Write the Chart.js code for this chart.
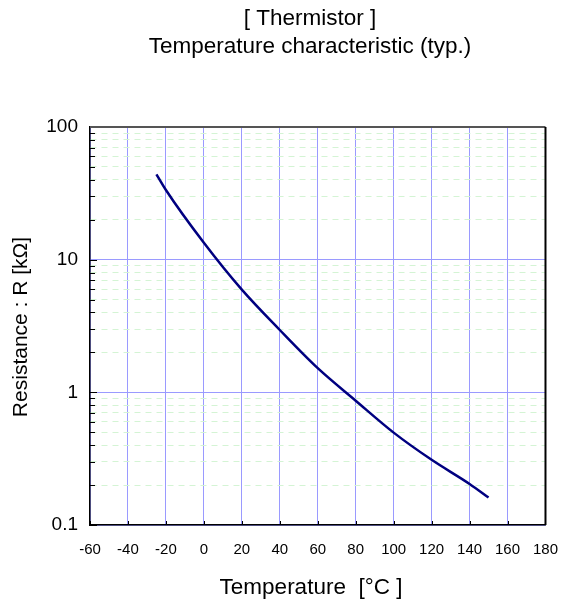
<!DOCTYPE html>
<html>
<head>
<meta charset="utf-8">
<script src="https://cdn.jsdelivr.net/npm/chart.js@4/dist/chart.umd.min.js"></script>
<style>
  html, body { margin: 0; padding: 0; background: #fff; }
  #wrap { width: 574px; height: 600px; }
</style>
</head>
<body>
<div id="wrap"><canvas id="c"></canvas></div>
<script>
// values
const tempC = [-25, -20, 0, 20, 40, 60, 80, 100, 120, 140, 150];
const resistK = [44, 33.5, 13.4, 5.94, 2.95, 1.52, 0.865, 0.497, 0.31, 0.204, 0.161];

const yMajor = [0.1, 1, 10, 100];
const yMinorSteps = [2, 3, 4, 5, 6, 7, 8, 9];
const xMin = -60, xMax = 180, xStep = 20;

const titleLines = ['[ Thermistor ]', 'Temperature characteristic (typ.)'];
const xTitle = 'Temperature  [°C ]';
const yTitle = 'Resistance : R [kΩ]';

const FONT = '"Liberation Sans", Arial, sans-serif';
const GRID_BLUE = '#9a9aff';
const GRID_GREEN = '#d4f4d4';

// tick list for the log axis: powers of ten + 2..9 in each decade
const yTickValues = [];
yMajor.forEach((m, i) => {
  yTickValues.push(m);
  if (i < yMajor.length - 1) yMinorSteps.forEach(s => yTickValues.push(+(m * s).toFixed(4)));
});

const isMajor = v => yMajor.some(m => Math.abs(m - v) < 1e-9);

const frameAndText = {
  id: 'frameAndText',
  afterDraw(chart) {
    const { ctx, chartArea: a, scales } = chart;
    ctx.save();
    // inward tick marks
    ctx.strokeStyle = '#000';
    ctx.lineWidth = 1;
    yTickValues.forEach(v => {
      const py = Math.round(scales.y.getPixelForValue(v)) + 0.5;
      const len = isMajor(v) ? 7 : 5;
      ctx.beginPath(); ctx.moveTo(a.left, py); ctx.lineTo(a.left + len, py); ctx.stroke();
    });
    for (let v = xMin; v <= xMax; v += xStep) {
      const px = Math.round(scales.x.getPixelForValue(v)) + 0.5;
      ctx.beginPath(); ctx.moveTo(px, a.bottom); ctx.lineTo(px, a.bottom - 4); ctx.stroke();
    }
    // top and right frame
    ctx.lineWidth = 2;
    ctx.strokeStyle = '#555';
    ctx.beginPath(); ctx.moveTo(a.left, a.top); ctx.lineTo(a.right, a.top); ctx.stroke();
    ctx.strokeStyle = '#000';
    ctx.beginPath(); ctx.moveTo(a.right, a.top); ctx.lineTo(a.right, a.bottom); ctx.stroke();

    // titles
    ctx.fillStyle = '#000';
    ctx.textAlign = 'center';
    ctx.textBaseline = 'middle';
    ctx.font = '22.5px ' + FONT;
    ctx.fillText(titleLines[0], 310, 19);
    ctx.fillText(titleLines[1], 310, 47);
    ctx.fillText(xTitle, 311, 588);
    ctx.font = '21px ' + FONT;
    ctx.translate(21, 327);
    ctx.rotate(-Math.PI / 2);
    ctx.fillText(yTitle, 0, 0);
    ctx.restore();
  }
};

new Chart(document.getElementById('c'), {
  type: 'line',
  data: {
    datasets: [{
      data: tempC.map((t, i) => ({ x: t, y: resistK[i] })),
      borderColor: '#000080',
      borderWidth: 2.5,
      pointRadius: 0,
      cubicInterpolationMode: 'monotone',
      fill: false
    }]
  },
  options: {
    responsive: true,
    maintainAspectRatio: false,
    animation: false,
    layout: { padding: { left: 0, right: 24, top: 127, bottom: 0 } },
    plugins: { legend: { display: false }, tooltip: { enabled: false }, title: { display: false } },
    scales: {
      x: {
        type: 'linear',
        min: xMin,
        max: xMax,
        afterFit: s => { s.height = 75; },
        ticks: {
          stepSize: xStep,
          color: '#000',
          font: { family: FONT, size: 15 },
          padding: 16,
          maxRotation: 0
        },
        grid: {
          drawTicks: false,
          color: GRID_BLUE,
          lineWidth: 1
        },
        border: { display: true, color: '#000', width: 1.5 }
      },
      y: {
        type: 'logarithmic',
        min: 0.1,
        max: 100,
        afterFit: s => { s.width = 90; },
        afterBuildTicks: s => {
          s.ticks = yTickValues.map(v => ({ value: v, major: isMajor(v) }));
        },
        ticks: {
          color: '#000',
          font: { family: FONT, size: 19 },
          padding: 12,
          autoSkip: false,
          callback: v => isMajor(v) ? String(v) : ''
        },
        grid: {
          drawTicks: false,
          color: c => (c.tick && isMajor(c.tick.value)) ? GRID_BLUE : GRID_GREEN,
          lineWidth: 1
        },
        border: {
          display: true,
          color: '#000',
          width: 1.5,
          dash: c => (c.tick && !isMajor(c.tick.value)) ? [6, 5] : []
        }
      }
    }
  },
  plugins: [frameAndText]
});
</script>
</body>
</html>
